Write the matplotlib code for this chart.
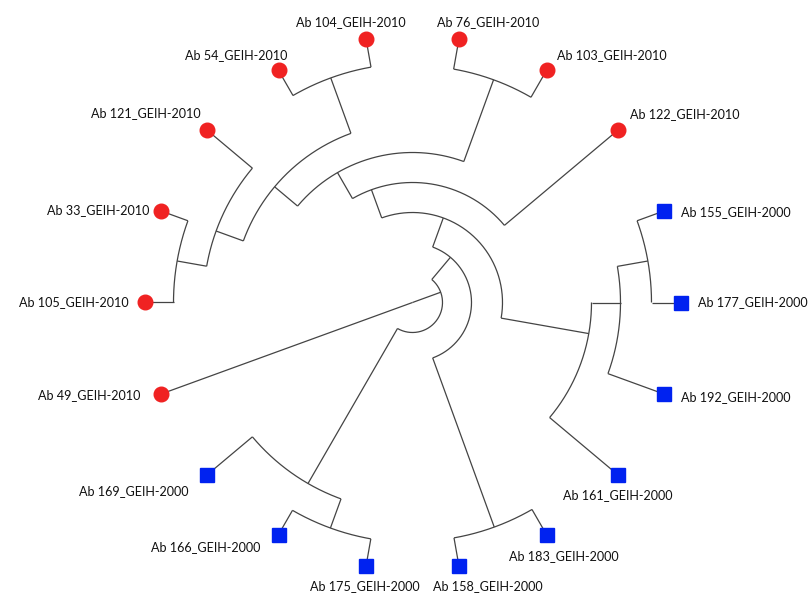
import matplotlib
matplotlib.use("Agg")
import matplotlib.pyplot as plt
import numpy as np

# leaves in drawing order (clockwise from the left side)
leaves = ["Ab 105_GEIH-2010", "Ab 33_GEIH-2010", "Ab 121_GEIH-2010", "Ab 54_GEIH-2010",
          "Ab 104_GEIH-2010", "Ab 76_GEIH-2010", "Ab 103_GEIH-2010", "Ab 122_GEIH-2010",
          "Ab 155_GEIH-2000", "Ab 177_GEIH-2000", "Ab 192_GEIH-2000", "Ab 161_GEIH-2000",
          "Ab 183_GEIH-2000", "Ab 158_GEIH-2000", "Ab 175_GEIH-2000", "Ab 166_GEIH-2000",
          "Ab 169_GEIH-2000", "Ab 49_GEIH-2010"]
groups = ["2010", "2010", "2010", "2010", "2010", "2010", "2010", "2010",
          "2000", "2000", "2000", "2000", "2000", "2000", "2000", "2000", "2000", "2010"]

# internal nodes: name, children, distance from root (tips are at 268)
nodes = [
    ("N", ["Ab 105_GEIH-2010", "Ab 33_GEIH-2010"], 239),
    ("M", ["N", "Ab 121_GEIH-2010"], 209),
    ("P", ["Ab 54_GEIH-2010", "Ab 104_GEIH-2010"], 239),
    ("L", ["M", "P"], 180),
    ("K", ["Ab 76_GEIH-2010", "Ab 103_GEIH-2010"], 237),
    ("J", ["L", "K"], 150),
    ("F", ["J", "Ab 122_GEIH-2010"], 120),
    ("I", ["Ab 155_GEIH-2000", "Ab 177_GEIH-2000"], 239),
    ("H", ["I", "Ab 192_GEIH-2000"], 208),
    ("G", ["H", "Ab 161_GEIH-2000"], 179),
    ("C", ["F", "G"], 90),
    ("E", ["Ab 183_GEIH-2000", "Ab 158_GEIH-2000"], 239),
    ("D", ["C", "E"], 59),
    ("Q", ["Ab 175_GEIH-2000", "Ab 166_GEIH-2000"], 240),
    ("B", ["Q", "Ab 169_GEIH-2000"], 209),
    ("X", ["D", "B"], 30),
    ("root", ["X", "Ab 49_GEIH-2010"], 0),
]
tip_r = 268

# label placement (pixel offsets from the marker, alignment)
label_pos = {
    "Ab 105_GEIH-2010": (-16, 0, "right"), "Ab 33_GEIH-2010": (-11, -1, "right"),
    "Ab 121_GEIH-2010": (-7, -17, "right"), "Ab 54_GEIH-2010": (9, -15, "right"),
    "Ab 104_GEIH-2010": (-15, -17, "center"), "Ab 76_GEIH-2010": (29, -17, "center"),
    "Ab 103_GEIH-2010": (10, -15, "left"), "Ab 122_GEIH-2010": (12, -16, "left"),
    "Ab 155_GEIH-2000": (17, 1, "left"), "Ab 177_GEIH-2000": (17, 0, "left"),
    "Ab 192_GEIH-2000": (17, 3, "left"), "Ab 161_GEIH-2000": (0, 20, "center"),
    "Ab 183_GEIH-2000": (17, 21, "center"), "Ab 158_GEIH-2000": (29, 20, "center"),
    "Ab 175_GEIH-2000": (-1, 20, "center"), "Ab 166_GEIH-2000": (-18, 12, "right"),
    "Ab 169_GEIH-2000": (-19, 16, "right"), "Ab 49_GEIH-2010": (-20, 1, "right"),
}

ang = {}
for i, name in enumerate(leaves):
    ang[name] = 180 - 20 * i
rad = {name: tip_r for name in leaves}
span = {name: (ang[name], ang[name]) for name in leaves}
for name, kids, r in nodes:
    lo = min(span[k][0] for k in kids)
    hi = max(span[k][1] for k in kids)
    span[name] = (lo, hi)
    ang[name] = (lo + hi) / 2
    rad[name] = r

fig = plt.figure(figsize=(8.1, 5.94), dpi=100)
ax = fig.add_axes([0, 0, 1, 1])
ax.set_xlim(-412.5, 397.5)
ax.set_ylim(-291.5, 302.5)
ax.set_aspect("equal")
ax.axis("off")

lc = "#444444"
for name, kids, r in nodes:
    ka = [ang[k] for k in kids]
    if r > 0:
        t = np.radians(np.linspace(min(ka), max(ka), 200))
        ax.plot(r * np.cos(t), r * np.sin(t), color=lc, lw=0.9, solid_capstyle="butt")
    for k in kids:
        a = np.radians(ang[k])
        ax.plot([r * np.cos(a), rad[k] * np.cos(a)], [r * np.sin(a), rad[k] * np.sin(a)],
                color=lc, lw=0.9, solid_capstyle="butt")

for name, g in zip(leaves, groups):
    a = np.radians(ang[name])
    x, y = tip_r * np.cos(a), tip_r * np.sin(a)
    if g == "2010":
        ax.plot(x, y, marker="o", ms=10.5, color="#f02222", mec="#f02222", zorder=3)
    else:
        ax.plot(x, y, marker="s", ms=9.5, color="#0022f0", mec="#0022f0", zorder=3)
    dx, dy, ha = label_pos[name]
    ax.text(x + dx, y - dy, name, ha=ha, va="center", fontsize=9.1,
            family=["Lato", "DejaVu Sans"], color="#111111")

fig.savefig("out.png", dpi=100)
